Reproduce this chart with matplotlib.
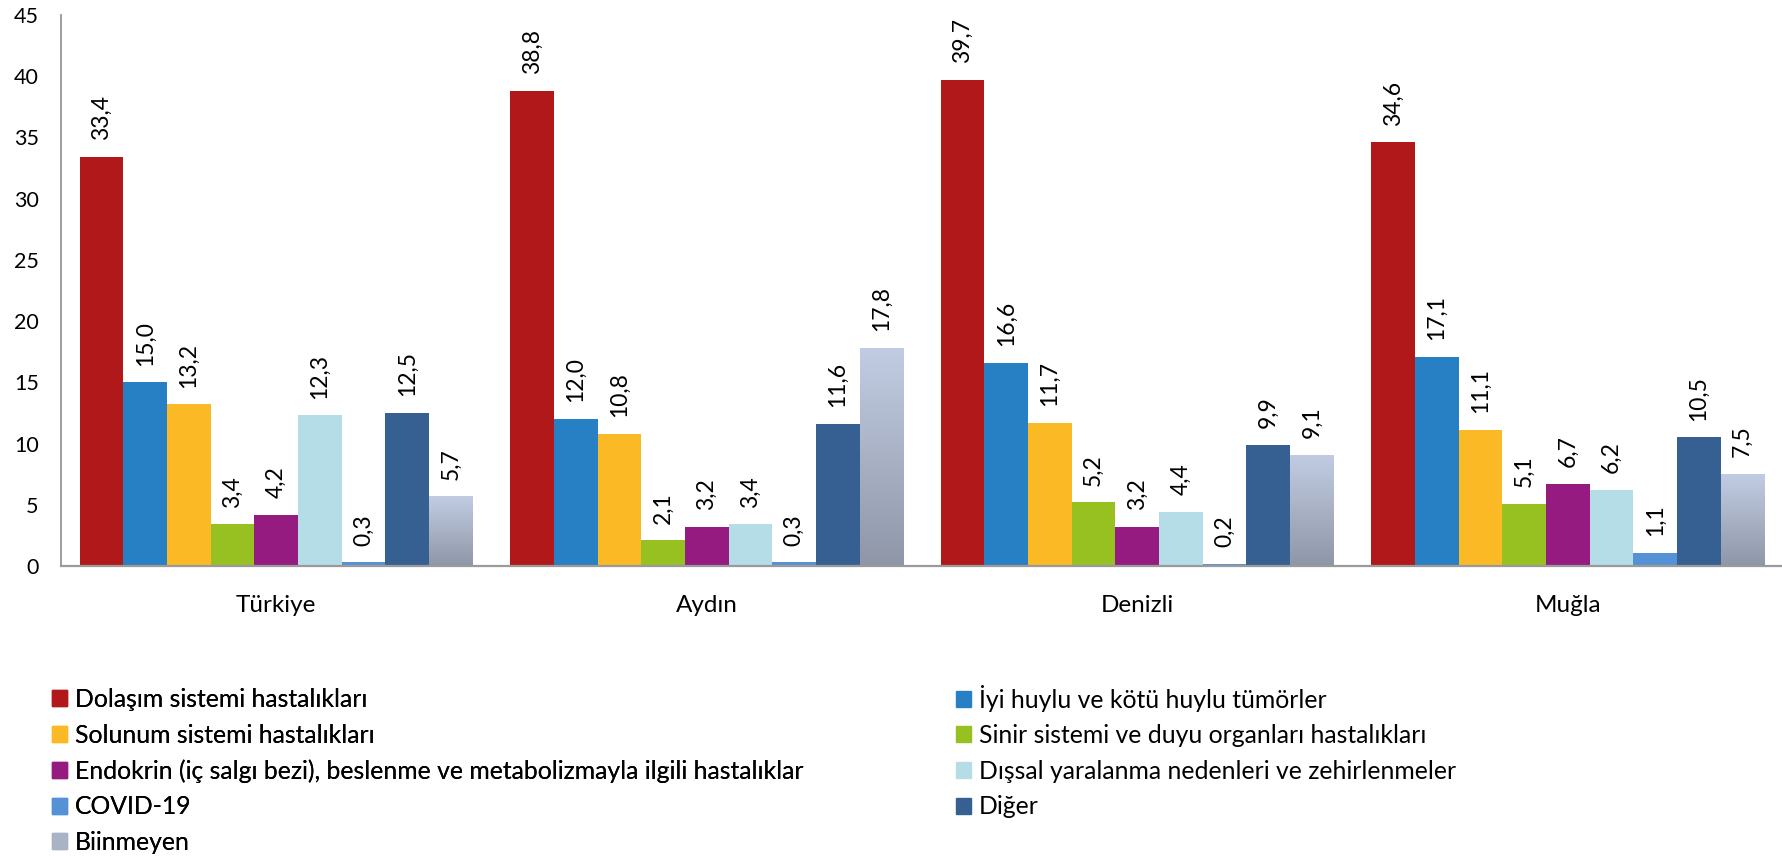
import matplotlib
matplotlib.use("Agg")
import matplotlib.pyplot as plt
import numpy as np
from matplotlib.colors import LinearSegmentedColormap

plt.rcParams['font.family'] = ['Lato', 'DejaVu Sans']

groups = ['Türkiye', 'Aydın', 'Denizli', 'Muğla']
series = ['Dolaşım sistemi hastalıkları',
          'İyi huylu ve kötü huylu tümörler',
          'Solunum sistemi hastalıkları',
          'Sinir sistemi ve duyu organları hastalıkları',
          'Endokrin (iç salgı bezi), beslenme ve metabolizmayla ilgili hastalıklar',
          'Dışsal yaralanma nedenleri ve zehirlenmeler',
          'COVID-19',
          'Diğer',
          'Biinmeyen']
dolasim = [33.4, 38.8, 39.7, 34.6]
tumor = [15.0, 12.0, 16.6, 17.1]
solunum = [13.2, 10.8, 11.7, 11.1]
sinir = [3.4, 2.1, 5.2, 5.1]
endokrin = [4.2, 3.2, 3.2, 6.7]
dissal = [12.3, 3.4, 4.4, 6.2]
covid = [0.3, 0.3, 0.2, 1.1]
diger = [12.5, 11.6, 9.9, 10.5]
bilinmeyen = [5.7, 17.8, 9.1, 7.5]
values = [dolasim, tumor, solunum, sinir, endokrin, dissal, covid, diger, bilinmeyen]
colors = ['#b0181a', '#2880c4', '#fbb925', '#97c121', '#961b80',
          '#b5dde8', '#5592d5', '#376092', '#aab4c8']

fig = plt.figure(figsize=(17.83, 8.56), dpi=100)
ax = fig.add_axes([0.0342, 0.3388, 0.9658, 0.6437])

x = np.arange(len(groups))
n = len(series)
span = 0.9125
w = span / n
# gradient for the last series (light on top, grey at the bottom)
grad = LinearSegmentedColormap.from_list('g', ['#8e96a8', '#a9b2c5', '#c1cce3'])
for i in range(n):
    pos = x - span / 2 + w * (i + 0.5)
    bars = ax.bar(pos, values[i], width=w, color=colors[i], zorder=2)
    if i == n - 1:
        for b in bars:
            b.set_facecolor('none')
            b.set_edgecolor('none')
            im = ax.imshow(np.linspace(0, 1, 100).reshape(-1, 1), cmap=grad, origin='lower',
                           aspect='auto', extent=[b.get_x(), b.get_x() + b.get_width(), 0, b.get_height()],
                           zorder=2)
            im.set_clip_path(b)
    for p, v in zip(pos, values[i]):
        ax.annotate(f'{v:.1f}'.replace('.', ','), (p, v), xytext=(0, 12), textcoords='offset points',
                    rotation=90, ha='center', va='bottom', fontsize=16.5)

ax.set_xlim(-0.5, len(groups) - 0.5)
ax.set_ylim(0, 45)
ax.set_yticks(np.arange(0, 46, 5))
ax.set_xticks(x)
ax.set_xticklabels(groups, fontsize=17.5)
ax.tick_params(axis='both', length=0)
ax.tick_params(axis='y', labelsize=15.5, pad=16)
ax.tick_params(axis='x', pad=21)
for s in ['top', 'right']:
    ax.spines[s].set_visible(False)
ax.spines['left'].set_color('#8c8c8c')
ax.spines['left'].set_linewidth(1.2)
ax.spines['bottom'].set_color('#9a9a9a')
ax.spines['bottom'].set_linewidth(1.6)

leg_handles = [plt.Rectangle((0, 0), 1, 1, color=c) for c in colors]
leg_handles[-1] = plt.Rectangle((0, 0), 1, 1, color='#a9b3c6')
left_idx = [0, 2, 4, 6, 8]
right_idx = [1, 3, 5, 7]
leg_kw = dict(loc='upper left', frameon=False, fontsize=17.8, handlelength=0.61, handleheight=0.61,
              handletextpad=0.32, labelspacing=0.51, borderaxespad=0, borderpad=0)
leg1 = fig.legend([leg_handles[k] for k in left_idx], [series[k] for k in left_idx],
                  bbox_to_anchor=(52 / 1783, 1 - 688 / 856), **leg_kw)
fig.add_artist(leg1)
fig.legend([leg_handles[k] for k in right_idx], [series[k] for k in right_idx],
           bbox_to_anchor=(956 / 1783, 1 - 684.5 / 856), **leg_kw)

fig.savefig('out.png', dpi=100)
